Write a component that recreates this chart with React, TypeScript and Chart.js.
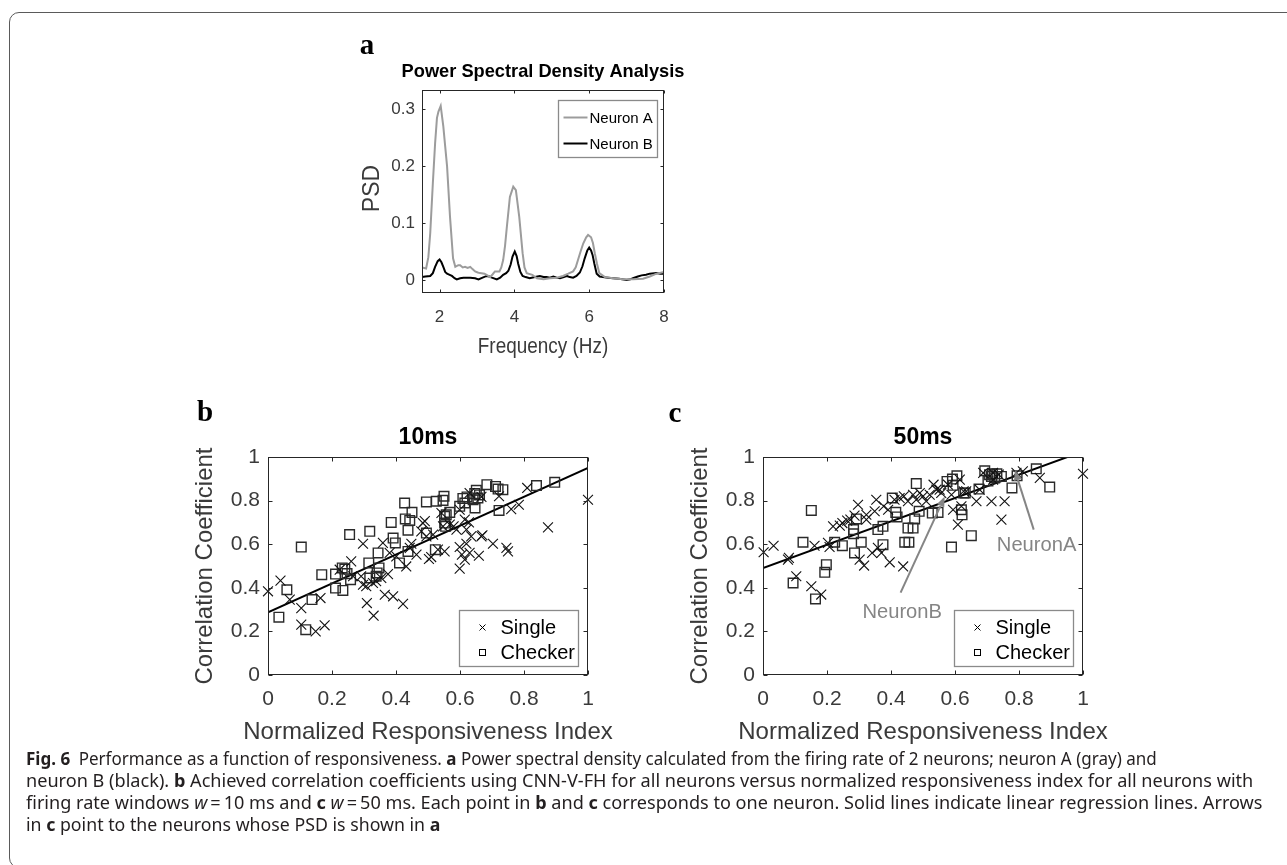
import React, { useEffect, useLayoutEffect, useRef } from "react";
import { Chart, registerables } from "chart.js";

Chart.register(...registerables);

const SANS = "'Liberation Sans', Arial, Helvetica, sans-serif";
const SERIF = "'Liberation Serif', 'Times New Roman', serif";
const AXIS_COLOR = "#262626";
const TEXT_COLOR = "#3a3a3a";

// ---------- Panel a: Power spectral density ----------
const A_X_TICKS = [2, 4, 6, 8];
const A_X_LABELS = ["2", "4", "6", "8"];
const A_Y_TICKS = [0, 0.1, 0.2, 0.3];
const A_Y_LABELS = ["0", "0.1", "0.2", "0.3"];

const FREQ_A = [1.53, 1.64, 1.7, 1.75, 1.82, 1.88, 1.93, 1.97, 2.03, 2.1, 2.15, 2.2, 2.28, 2.36, 2.42, 2.5, 2.55, 2.62, 2.68, 2.75, 2.82, 2.88, 2.95, 3.02, 3.08, 3.2, 3.28, 3.35, 3.42, 3.48, 3.6, 3.65, 3.7, 3.75, 3.8, 3.88, 3.97, 4.04, 4.13, 4.22, 4.27, 4.33, 4.48, 4.6, 4.78, 4.95, 5.13, 5.3, 5.44, 5.57, 5.64, 5.7, 5.77, 5.84, 5.92, 5.97, 6.05, 6.1, 6.15, 6.21, 6.27, 6.42, 6.64, 6.9, 7.17, 7.44, 7.62, 7.8, 8.0];
const PSD_A = [0.022, 0.02, 0.04, 0.082, 0.17, 0.24, 0.285, 0.296, 0.306, 0.27, 0.235, 0.2, 0.11, 0.038, 0.023, 0.026, 0.026, 0.022, 0.023, 0.021, 0.023, 0.019, 0.015, 0.013, 0.012, 0.011, 0.008, 0.005, 0.01, 0.015, 0.015, 0.022, 0.035, 0.06, 0.094, 0.146, 0.164, 0.158, 0.111, 0.047, 0.022, 0.012, 0.009, 0.003, 0.001, 0.003, 0.004, 0.007, 0.011, 0.015, 0.022, 0.035, 0.05, 0.064, 0.075, 0.079, 0.075, 0.065, 0.047, 0.028, 0.012, 0.005, 0.003, 0.001, 0.001, 0.002, 0.006, 0.011, 0.014];

const FREQ_B = [1.53, 1.62, 1.75, 1.82, 1.88, 1.95, 2.0, 2.05, 2.1, 2.15, 2.2, 2.27, 2.33, 2.4, 2.46, 2.55, 2.64, 2.82, 2.95, 3.04, 3.15, 3.26, 3.33, 3.4, 3.53, 3.62, 3.7, 3.78, 3.84, 3.9, 3.95, 4.01, 4.06, 4.1, 4.16, 4.22, 4.3, 4.41, 4.55, 4.68, 4.78, 4.86, 4.95, 5.04, 5.13, 5.22, 5.32, 5.4, 5.48, 5.57, 5.66, 5.75, 5.82, 5.88, 5.95, 6.0, 6.05, 6.09, 6.14, 6.2, 6.28, 6.37, 6.5, 6.64, 6.8, 7.0, 7.1, 7.17, 7.3, 7.4, 7.52, 7.62, 7.8, 7.9, 8.0];
const PSD_B = [0.005, 0.006, 0.007, 0.012, 0.023, 0.033, 0.036, 0.031, 0.023, 0.014, 0.011, 0.009, 0.007, 0.003, 0.001, 0.003, 0.004, 0.004, 0.003, 0.001, 0.004, 0.007, 0.006, 0.004, 0.001, 0.004, 0.009, 0.012, 0.016, 0.027, 0.041, 0.05, 0.042, 0.029, 0.014, 0.007, 0.005, 0.003, 0.005, 0.007, 0.005, 0.005, 0.004, 0.006, 0.004, 0.003, 0.005, 0.007, 0.005, 0.004, 0.007, 0.013, 0.024, 0.038, 0.052, 0.057, 0.052, 0.044, 0.028, 0.011, 0.006, 0.005, 0.004, 0.003, 0.002, 0.0, 0.001, 0.003, 0.006, 0.008, 0.009, 0.011, 0.012, 0.011, 0.011];

// ---------- Panels b & c: correlation vs responsiveness ----------
const RI_TICKS = [0, 0.2, 0.4, 0.6, 0.8, 1];
const RI_LABELS = ["0", "0.2", "0.4", "0.6", "0.8", "1"];
const CC_TICKS = [0, 0.2, 0.4, 0.6, 0.8, 1];
const CC_LABELS = ["0", "0.2", "0.4", "0.6", "0.8", "1"];

const B_SINGLE: [number, number][] = [
  [0.0, 0.384], [0.039, 0.433], [0.068, 0.346], [0.104, 0.307], [0.104, 0.231], [0.149, 0.2], [0.177, 0.228], [0.164, 0.353],
  [0.26, 0.521], [0.297, 0.602], [0.309, 0.33], [0.33, 0.272], [0.297, 0.414], [0.307, 0.407], [0.291, 0.453], [0.338, 0.43],
  [0.359, 0.606], [0.365, 0.368], [0.391, 0.361], [0.375, 0.463], [0.422, 0.326], [0.432, 0.498], [0.448, 0.602], [0.464, 0.552],
  [0.484, 0.697], [0.503, 0.532], [0.51, 0.541], [0.495, 0.636], [0.531, 0.575], [0.542, 0.743], [0.552, 0.567], [0.58, 0.682],
  [0.589, 0.667], [0.599, 0.587], [0.599, 0.488], [0.606, 0.552], [0.615, 0.529], [0.62, 0.602], [0.599, 0.758], [0.62, 0.667],
  [0.628, 0.7], [0.635, 0.636], [0.659, 0.547], [0.667, 0.636], [0.67, 0.641], [0.667, 0.817], [0.703, 0.602], [0.722, 0.82],
  [0.745, 0.583], [0.75, 0.567], [0.76, 0.761], [0.784, 0.781], [0.81, 0.858], [0.875, 0.677], [1.0, 0.804], [0.615, 0.713],
  [0.547, 0.682], [0.479, 0.659], [0.443, 0.583], [0.401, 0.544], [0.38, 0.56], [0.354, 0.445], [0.328, 0.422], [0.266, 0.453],
  [0.224, 0.483], [0.568, 0.69], [0.63, 0.56], [0.49, 0.706], [0.516, 0.644], [0.63, 0.835],
];
const B_CHECKER: [number, number][] = [
  [0.034, 0.265], [0.059, 0.391], [0.104, 0.587], [0.118, 0.208], [0.1375, 0.346], [0.168, 0.46], [0.211, 0.463], [0.211, 0.399],
  [0.232, 0.491], [0.234, 0.388], [0.24, 0.486], [0.255, 0.644], [0.247, 0.465], [0.258, 0.437], [0.318, 0.659], [0.315, 0.514],
  [0.318, 0.445], [0.344, 0.56], [0.341, 0.468], [0.338, 0.453], [0.347, 0.491], [0.385, 0.7], [0.391, 0.628], [0.398, 0.606],
  [0.411, 0.514], [0.427, 0.789], [0.4375, 0.664], [0.429, 0.716], [0.443, 0.709], [0.45, 0.746], [0.4375, 0.567], [0.495, 0.794],
  [0.495, 0.651], [0.523, 0.575], [0.526, 0.797], [0.547, 0.801], [0.55, 0.82], [0.552, 0.697], [0.555, 0.682], [0.557, 0.735],
  [0.568, 0.746], [0.599, 0.774], [0.615, 0.789], [0.622, 0.817], [0.641, 0.804], [0.646, 0.832], [0.651, 0.847], [0.656, 0.812],
  [0.661, 0.826], [0.647, 0.766], [0.684, 0.873], [0.711, 0.865], [0.719, 0.853], [0.734, 0.85], [0.722, 0.755], [0.839, 0.869],
  [0.896, 0.884], [0.609, 0.81], [0.552, 0.728],
];
const B_REGRESSION: [number, number][] = [[0, 0.287], [1, 0.95]];

const C_SINGLE: [number, number][] = [
  [0.002, 0.563], [0.033, 0.593], [0.081, 0.537], [0.078, 0.529], [0.104, 0.453], [0.151, 0.407], [0.182, 0.369], [0.161, 0.593],
  [0.208, 0.587], [0.219, 0.682], [0.248, 0.697], [0.263, 0.708], [0.273, 0.713], [0.297, 0.781], [0.302, 0.529], [0.316, 0.502],
  [0.323, 0.735], [0.341, 0.56], [0.354, 0.804], [0.349, 0.751], [0.37, 0.56], [0.377, 0.774], [0.391, 0.758], [0.396, 0.517],
  [0.411, 0.804], [0.438, 0.498], [0.44, 0.82], [0.453, 0.797], [0.469, 0.827], [0.479, 0.804], [0.49, 0.835], [0.5, 0.82],
  [0.51, 0.797], [0.533, 0.873], [0.542, 0.85], [0.557, 0.835], [0.589, 0.827], [0.594, 0.758], [0.609, 0.69], [0.615, 0.896],
  [0.62, 0.774], [0.627, 0.843], [0.667, 0.797], [0.677, 0.85], [0.714, 0.797], [0.745, 0.713], [0.755, 0.797], [0.688, 0.927],
  [0.737, 0.919], [0.719, 0.927], [0.812, 0.934], [0.865, 0.904], [0.286, 0.731], [0.24, 0.685], [0.203, 0.606], [0.323, 0.713],
  [0.359, 0.583], [0.427, 0.812], [0.552, 0.85], [0.521, 0.827], [0.578, 0.873], [0.635, 0.843], [0.719, 0.896], [0.792, 0.927],
  [1.0, 0.923],
];
const C_CHECKER: [number, number][] = [
  [0.094, 0.422], [0.125, 0.609], [0.151, 0.755], [0.164, 0.349], [0.193, 0.471], [0.198, 0.506], [0.224, 0.609], [0.248, 0.593],
  [0.283, 0.667], [0.283, 0.648], [0.286, 0.56], [0.292, 0.716], [0.307, 0.609], [0.359, 0.667], [0.375, 0.682], [0.375, 0.598],
  [0.404, 0.812], [0.415, 0.746], [0.419, 0.725], [0.443, 0.609], [0.453, 0.674], [0.469, 0.674], [0.456, 0.609], [0.474, 0.716],
  [0.479, 0.878], [0.488, 0.751], [0.529, 0.743], [0.547, 0.746], [0.575, 0.888], [0.589, 0.587], [0.592, 0.899], [0.606, 0.914],
  [0.62, 0.758], [0.622, 0.735], [0.632, 0.835], [0.651, 0.639], [0.675, 0.853], [0.693, 0.937], [0.708, 0.919], [0.714, 0.911],
  [0.724, 0.904], [0.731, 0.923], [0.745, 0.911], [0.778, 0.858], [0.794, 0.914], [0.854, 0.946], [0.896, 0.862], [0.594, 0.87],
  [0.627, 0.835], [0.717, 0.923], [0.703, 0.89],
];
const C_REGRESSION: [number, number][] = [[0, 0.49], [1, 1.026]];

const C_ARROW_LABELS = ["NeuronA", "NeuronB"];
const C_ARROW_TAILS: [number, number][] = [[0.846, 0.667], [0.43, 0.378]];
const C_ARROW_HEADS: [number, number][] = [[0.787, 0.939], [0.568, 0.819]];
const C_ARROW_TEXT_AT: [number, number][] = [[0.855, 0.594], [0.435, 0.29]];

// ---------- helpers ----------
const toPts = (xs: number[], ys: number[]) => xs.map((x, i) => ({ x, y: ys[i] }));
const pairPts = (p: [number, number][]) => p.map(([x, y]) => ({ x, y }));

type LegendRow = { kind: "line" | "cross" | "square"; color: string; text: string };
type TextSpec = { text: string; size: number; dy: number; sx?: number };
type Decor = {
  title: TextSpec;
  xTitle: TextSpec;
  yTitle: TextSpec & { x: number };
  legend: {
    w: number; h: number; rightGap: number; topGap?: number; bottomGap?: number;
    size: number; markerX: number; textX: number; rowY: number[]; rows: LegendRow[];
  };
  tickLen: number;
  arrows?: boolean;
};

function drawCross(ctx: CanvasRenderingContext2D, x: number, y: number, r: number) {
  ctx.beginPath();
  ctx.moveTo(x - r, y - r); ctx.lineTo(x + r, y + r);
  ctx.moveTo(x + r, y - r); ctx.lineTo(x - r, y + r);
  ctx.stroke();
}

function drawScaledText(ctx: CanvasRenderingContext2D, text: string, x: number, y: number, sx = 1) {
  ctx.save();
  ctx.translate(x, y);
  ctx.scale(sx, 1);
  ctx.fillText(text, 0, 0);
  ctx.restore();
}

function makeDecor(d: Decor) {
  return {
    id: "decor",
    afterDraw(chart: any) {
      const { ctx, chartArea: ca, scales } = chart;
      const xs = scales.x, ys = scales.y;
      ctx.save();
      const L = Math.round(ca.left) + 0.5, R = Math.round(ca.right) - 0.5;
      const T = Math.round(ca.top) + 0.5, B = Math.round(ca.bottom) - 0.5;
      ctx.strokeStyle = AXIS_COLOR;
      ctx.lineWidth = 1;
      ctx.strokeRect(L, T, R - L, B - T);
      ctx.beginPath();
      for (const t of xs.ticks) {
        const p = Math.round(xs.getPixelForValue(t.value)) + 0.5;
        ctx.moveTo(p, B); ctx.lineTo(p, B - d.tickLen);
        ctx.moveTo(p, T); ctx.lineTo(p, T + d.tickLen);
      }
      for (const t of ys.ticks) {
        const p = Math.round(ys.getPixelForValue(t.value)) + 0.5;
        ctx.moveTo(L, p); ctx.lineTo(L + d.tickLen, p);
        ctx.moveTo(R, p); ctx.lineTo(R - d.tickLen, p);
      }
      ctx.stroke();

      if (d.arrows) {
        ctx.strokeStyle = "#858585";
        ctx.fillStyle = "#858585";
        ctx.lineWidth = 2;
        C_ARROW_LABELS.forEach((label, i) => {
          const x0 = xs.getPixelForValue(C_ARROW_TAILS[i][0]);
          const y0 = ys.getPixelForValue(C_ARROW_TAILS[i][1]);
          const x1 = xs.getPixelForValue(C_ARROW_HEADS[i][0]);
          const y1 = ys.getPixelForValue(C_ARROW_HEADS[i][1]);
          const ang = Math.atan2(y1 - y0, x1 - x0);
          const hl = 10, hw = 4;
          const bx = x1 - hl * Math.cos(ang), by = y1 - hl * Math.sin(ang);
          ctx.beginPath();
          ctx.moveTo(x0, y0); ctx.lineTo(bx, by);
          ctx.stroke();
          ctx.beginPath();
          ctx.moveTo(x1, y1);
          ctx.lineTo(bx + hw * Math.sin(ang), by - hw * Math.cos(ang));
          ctx.lineTo(bx - hw * Math.sin(ang), by + hw * Math.cos(ang));
          ctx.closePath();
          ctx.fill();
          ctx.font = `21px ${SANS}`;
          ctx.textAlign = "center";
          ctx.textBaseline = "middle";
          drawScaledText(ctx, label, xs.getPixelForValue(C_ARROW_TEXT_AT[i][0]), ys.getPixelForValue(C_ARROW_TEXT_AT[i][1]), 0.96);
        });
      }

      // legend
      const lg = d.legend;
      const lx = Math.round(ca.right - lg.rightGap - lg.w) + 0.5;
      const ly = Math.round(lg.topGap !== undefined ? ca.top + lg.topGap : ca.bottom - lg.bottomGap! - lg.h) + 0.5;
      ctx.fillStyle = "#ffffff";
      ctx.fillRect(lx, ly, lg.w, lg.h);
      ctx.strokeStyle = "#8a8a8a";
      ctx.lineWidth = 1.3;
      ctx.strokeRect(lx, ly, lg.w, lg.h);
      lg.rows.forEach((row, i) => {
        const cy = ly + lg.rowY[i];
        ctx.strokeStyle = row.color;
        if (row.kind === "line") {
          ctx.lineWidth = 2;
          ctx.beginPath();
          ctx.moveTo(lx + 5, cy); ctx.lineTo(lx + lg.markerX, cy);
          ctx.stroke();
        } else if (row.kind === "cross") {
          ctx.lineWidth = 1;
          drawCross(ctx, lx + lg.markerX, cy, 3);
        } else {
          ctx.lineWidth = 1;
          ctx.strokeRect(lx + lg.markerX - 3, cy - 3, 6, 6);
        }
        ctx.fillStyle = "#000";
        ctx.font = `${lg.size}px ${SANS}`;
        ctx.textAlign = "left";
        ctx.textBaseline = "middle";
        ctx.fillText(row.text, lx + lg.textX, cy + 1);
      });

      // titles
      const cx = (ca.left + ca.right) / 2;
      const cy = (ca.top + ca.bottom) / 2;
      ctx.textAlign = "center";
      ctx.textBaseline = "middle";
      ctx.fillStyle = "#000";
      ctx.font = `bold ${d.title.size}px ${SANS}`;
      drawScaledText(ctx, d.title.text, cx, ca.top + d.title.dy, d.title.sx);
      ctx.fillStyle = TEXT_COLOR;
      ctx.font = `${d.xTitle.size}px ${SANS}`;
      drawScaledText(ctx, d.xTitle.text, cx, ca.bottom + d.xTitle.dy, d.xTitle.sx);
      ctx.save();
      ctx.translate(d.yTitle.x, cy + d.yTitle.dy);
      ctx.rotate(-Math.PI / 2);
      ctx.font = `${d.yTitle.size}px ${SANS}`;
      drawScaledText(ctx, d.yTitle.text, 0, 0, d.yTitle.sx);
      ctx.restore();
      ctx.restore();
    },
  };
}

function axis(opts: {
  min: number; max: number; ticks: number[]; labels: string[]; size: number; padding: number;
  fit: number; horizontal: boolean;
}) {
  return {
    type: "linear",
    min: opts.min,
    max: opts.max,
    grid: { display: false, drawTicks: false },
    border: { display: false },
    afterBuildTicks: (scale: any) => {
      scale.ticks = opts.ticks.map((v) => ({ value: v }));
    },
    afterFit: (scale: any) => {
      if (opts.horizontal) scale.height = opts.fit;
      else scale.width = opts.fit;
    },
    ticks: {
      autoSkip: false,
      maxRotation: 0,
      minRotation: 0,
      padding: opts.padding,
      color: TEXT_COLOR,
      font: { size: opts.size, family: SANS },
      callback: (_v: any, i: number) => opts.labels[i],
    },
  };
}

function ChartCanvas(props: { left: number; top: number; width: number; height: number; build: () => any }) {
  const ref = useRef<HTMLCanvasElement>(null);
  useEffect(() => {
    const chart = new Chart(ref.current!, props.build());
    return () => chart.destroy();
  }, []);
  return (
    <canvas
      ref={ref}
      width={props.width}
      height={props.height}
      style={{ position: "absolute", left: props.left, top: props.top, width: props.width, height: props.height }}
    />
  );
}

const baseOptions = {
  responsive: false,
  maintainAspectRatio: false,
  animation: false,
  devicePixelRatio: 1,
  events: [],
  plugins: { legend: { display: false }, tooltip: { enabled: false }, title: { display: false } },
};

function buildPanelA() {
  return {
    type: "scatter",
    data: {
      datasets: [
        { data: toPts(FREQ_A, PSD_A), showLine: true, borderColor: "#9c9c9c", borderWidth: 2, pointRadius: 0 },
        { data: toPts(FREQ_B, PSD_B), showLine: true, borderColor: "#000000", borderWidth: 2, pointRadius: 0 },
      ],
    },
    options: {
      ...baseOptions,
      layout: { padding: { left: 0, top: 60, right: 86, bottom: 0 } },
      scales: {
        x: axis({ min: 1.53, max: 8, ticks: A_X_TICKS, labels: A_X_LABELS, size: 17, padding: 14, fit: 77, horizontal: true }),
        y: axis({ min: -0.023, max: 0.334, ticks: A_Y_TICKS, labels: A_Y_LABELS, size: 17, padding: 7, fit: 92, horizontal: false }),
      },
    },
    plugins: [
      makeDecor({
        title: { text: "Power Spectral Density Analysis", size: 19, dy: -18, sx: 0.96 },
        xTitle: { text: "Frequency (Hz)", size: 22, dy: 54, sx: 0.86 },
        yTitle: { text: "PSD", size: 23, x: 43, dy: -3 },
        tickLen: 3,
        legend: {
          w: 99, h: 57, rightGap: 7, topGap: 10, size: 15, markerX: 29, textX: 31, rowY: [17, 43],
          rows: [
            { kind: "line", color: "#9c9c9c", text: "Neuron A" },
            { kind: "line", color: "#000000", text: "Neuron B" },
          ],
        },
      }),
    ],
  };
}

function buildScatterPanel(title: string, single: [number, number][], checker: [number, number][], reg: [number, number][], arrows: boolean) {
  return () => ({
    type: "scatter",
    data: {
      datasets: [
        {
          data: pairPts(single), pointStyle: "crossRot", pointRadius: 7, pointBorderColor: "#111111",
          pointBorderWidth: 1.1, pointBackgroundColor: "rgba(0,0,0,0)", clip: false,
        },
        {
          data: pairPts(checker), pointStyle: "rect", pointRadius: 6.8, pointBorderColor: "#2a2a2a",
          pointBorderWidth: 1.4, pointBackgroundColor: "rgba(0,0,0,0)", clip: false,
        },
        { data: pairPts(reg), showLine: true, borderColor: "#000000", borderWidth: 2, pointRadius: 0 },
      ],
    },
    options: {
      ...baseOptions,
      layout: { padding: { left: 0, top: 67, right: 32, bottom: 0 } },
      scales: {
        x: axis({ min: 0, max: 1, ticks: RI_TICKS, labels: RI_LABELS, size: 21, padding: 12, fit: 75, horizontal: true }),
        y: axis({ min: 0, max: 1, ticks: CC_TICKS, labels: CC_LABELS, size: 21, padding: 8, fit: 98, horizontal: false }),
      },
    },
    plugins: [
      makeDecor({
        title: { text: title, size: 23, dy: -19 },
        xTitle: { text: "Normalized Responsiveness Index", size: 24, dy: 57 },
        yTitle: { text: "Correlation Coefficient", size: 24, x: 35, dy: 0 },
        tickLen: 4,
        arrows,
        legend: {
          w: 119, h: 56, rightGap: 10, bottomGap: 9, size: 20, markerX: 23, textX: 41, rowY: [17, 42],
          rows: [
            { kind: "cross", color: "#000000", text: "Single" },
            { kind: "square", color: "#000000", text: "Checker" },
          ],
        },
      }),
    ],
  });
}

// ---------- caption ----------
type Seg = { t: string; b?: boolean; i?: boolean };
const CAPTION_LINES: Seg[][] = [
  [{ t: "Fig. 6", b: true }, { t: "\u2002Performance as a function of responsiveness. " }, { t: "a", b: true }, { t: " Power spectral density calculated from the firing rate of 2 neurons; neuron A (gray) and" }],
  [{ t: "neuron B (black). " }, { t: "b", b: true }, { t: " Achieved correlation coefficients using CNN-V-FH for all neurons versus normalized responsiveness index for all neurons with" }],
  [{ t: "firing rate windows " }, { t: "w", i: true }, { t: "\u2009=\u200910 ms and " }, { t: "c", b: true }, { t: " " }, { t: "w", i: true }, { t: "\u2009=\u200950 ms. Each point in " }, { t: "b", b: true }, { t: " and " }, { t: "c", b: true }, { t: " corresponds to one neuron. Solid lines indicate linear regression lines. Arrows" }],
  [{ t: "in " }, { t: "c", b: true }, { t: " point to the neurons whose PSD is shown in " }, { t: "a", b: true }],
];
const CAPTION_CENTERS = [758, 780, 802, 824];
// measured right ends of the first three lines (the last line follows their average scale)
const CAPTION_WIDTHS = [1131, 1227, 1236];

function Caption() {
  const refs = useRef<(HTMLDivElement | null)[]>([]);
  useLayoutEffect(() => {
    const fit = () => {
      const scales: number[] = [];
      refs.current.forEach((el, i) => {
        if (!el || i >= CAPTION_WIDTHS.length) return;
        const w = el.offsetWidth;
        if (w > 0) {
          const s = CAPTION_WIDTHS[i] / w;
          scales.push(s);
          el.style.transform = `scaleX(${s})`;
        }
      });
      const avg = scales.length ? scales.reduce((a, b) => a + b, 0) / scales.length : 1;
      refs.current.forEach((el, i) => {
        if (el && i >= CAPTION_WIDTHS.length) el.style.transform = `scaleX(${avg})`;
      });
    };
    fit();
    (document as any).fonts?.ready?.then(fit);
  }, []);
  return (
    <>
      {CAPTION_LINES.map((line, i) => (
        <div
          key={i}
          ref={(el) => { refs.current[i] = el; }}
          style={{
            position: "absolute", left: 26, top: CAPTION_CENTERS[i] - 12, height: 24, lineHeight: "24px",
            whiteSpace: "nowrap", fontFamily: "'Noto Sans', 'Open Sans', sans-serif", fontSize: 17.5,
            color: "#231f20", transformOrigin: "0 0",
          }}
        >
          {line.map((s, j) => (
            <span key={j} style={{ fontWeight: s.b ? 700 : 400, fontStyle: s.i ? "italic" : "normal" }}>{s.t}</span>
          ))}
        </div>
      ))}
    </>
  );
}

function PanelLetter(props: { ch: string; x: number; y: number }) {
  return (
    <div
      style={{
        position: "absolute", left: props.x - 20, top: props.y - 17, width: 40, height: 34, lineHeight: "34px",
        textAlign: "center", fontFamily: SERIF, fontWeight: 700, fontSize: 29, color: "#000",
      }}
    >
      {props.ch}
    </div>
  );
}

export default function App() {
  useEffect(() => {
    document.body.style.margin = "0";
    document.body.style.overflow = "hidden";
  }, []);
  return (
    <div style={{ position: "relative", width: 1287, height: 865, overflow: "hidden", background: "#fff" }}>
      <div
        style={{
          position: "absolute", left: 9, top: 12, width: 1400, height: 856, border: "1.5px solid #5a5a5a",
          borderRadius: 10, boxSizing: "border-box",
        }}
      />
      <ChartCanvas left={330} top={30} width={420} height={340} build={buildPanelA} />
      <ChartCanvas left={170} top={390} width={450} height={360} build={buildScatterPanel("10ms", B_SINGLE, B_CHECKER, B_REGRESSION, false)} />
      <ChartCanvas left={665} top={390} width={450} height={360} build={buildScatterPanel("50ms", C_SINGLE, C_CHECKER, C_REGRESSION, true)} />
      <PanelLetter ch="a" x={367} y={44} />
      <PanelLetter ch="b" x={205} y={411} />
      <PanelLetter ch="c" x={675} y={412} />
      <Caption />
    </div>
  );
}
